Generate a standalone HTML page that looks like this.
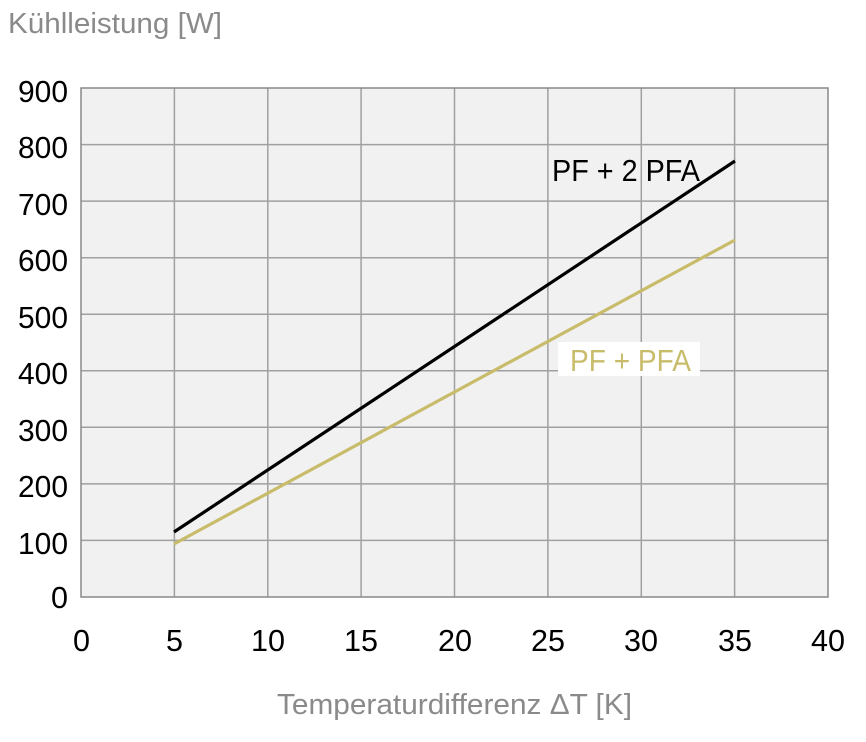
<!DOCTYPE html>
<html><head><meta charset="utf-8"><style>
body{margin:0;background:#fff;}
text{font-family:"Liberation Sans Narrow","Liberation Sans",sans-serif;}
</style></head><body>
<svg width="866" height="737" xmlns="http://www.w3.org/2000/svg">
<rect x="81" y="88" width="747" height="509" fill="#f1f1f1"/>
<g stroke="#a0a0a0" stroke-width="1.5">
<line x1="174.4" y1="88" x2="174.4" y2="597"/>
<line x1="267.8" y1="88" x2="267.8" y2="597"/>
<line x1="361.1" y1="88" x2="361.1" y2="597"/>
<line x1="454.5" y1="88" x2="454.5" y2="597"/>
<line x1="547.9" y1="88" x2="547.9" y2="597"/>
<line x1="641.3" y1="88" x2="641.3" y2="597"/>
<line x1="734.6" y1="88" x2="734.6" y2="597"/>
<line x1="81" y1="144.6" x2="828" y2="144.6"/>
<line x1="81" y1="201.1" x2="828" y2="201.1"/>
<line x1="81" y1="257.7" x2="828" y2="257.7"/>
<line x1="81" y1="314.2" x2="828" y2="314.2"/>
<line x1="81" y1="370.8" x2="828" y2="370.8"/>
<line x1="81" y1="427.3" x2="828" y2="427.3"/>
<line x1="81" y1="483.9" x2="828" y2="483.9"/>
<line x1="81" y1="540.4" x2="828" y2="540.4"/>
</g>
<rect x="81" y="88" width="747" height="509" fill="none" stroke="#888" stroke-width="1.5"/>
<line x1="174" y1="544" x2="735" y2="240" stroke="#c8bc6a" stroke-width="3.2"/>
<line x1="174" y1="532" x2="735" y2="161" stroke="#000" stroke-width="3.2"/>
<text x="552" y="181" font-size="31" textLength="148" lengthAdjust="spacingAndGlyphs" fill="#000">PF + 2 PFA</text>
<rect x="558" y="342" width="142" height="34" fill="#fff"/>
<text x="570" y="371" font-size="31" textLength="121" lengthAdjust="spacingAndGlyphs" fill="#c8bc6a">PF + PFA</text>
<g font-size="31" fill="#000">
<text x="18" y="102" textLength="50" lengthAdjust="spacingAndGlyphs">900</text>
<text x="18" y="158" textLength="50" lengthAdjust="spacingAndGlyphs">800</text>
<text x="18" y="215" textLength="50" lengthAdjust="spacingAndGlyphs">700</text>
<text x="18" y="271" textLength="50" lengthAdjust="spacingAndGlyphs">600</text>
<text x="18" y="328" textLength="50" lengthAdjust="spacingAndGlyphs">500</text>
<text x="18" y="384" textLength="50" lengthAdjust="spacingAndGlyphs">400</text>
<text x="18" y="441" textLength="50" lengthAdjust="spacingAndGlyphs">300</text>
<text x="18" y="497" textLength="50" lengthAdjust="spacingAndGlyphs">200</text>
<text x="18" y="554" textLength="50" lengthAdjust="spacingAndGlyphs">100</text>
<text x="51" y="608" textLength="17" lengthAdjust="spacingAndGlyphs">0</text>
</g>
<g font-size="31" fill="#000">
<text x="73" y="651" textLength="17" lengthAdjust="spacingAndGlyphs">0</text>
<text x="166" y="651" textLength="17" lengthAdjust="spacingAndGlyphs">5</text>
<text x="251" y="651" textLength="34" lengthAdjust="spacingAndGlyphs">10</text>
<text x="344" y="651" textLength="34" lengthAdjust="spacingAndGlyphs">15</text>
<text x="438" y="651" textLength="34" lengthAdjust="spacingAndGlyphs">20</text>
<text x="531" y="651" textLength="34" lengthAdjust="spacingAndGlyphs">25</text>
<text x="624" y="651" textLength="34" lengthAdjust="spacingAndGlyphs">30</text>
<text x="718" y="651" textLength="34" lengthAdjust="spacingAndGlyphs">35</text>
<text x="811" y="651" textLength="34" lengthAdjust="spacingAndGlyphs">40</text>
</g>
<text x="8" y="33" font-size="29" textLength="214" lengthAdjust="spacingAndGlyphs" fill="#8a8a8a">Kühlleistung [W]</text>
<text x="277" y="714" font-size="29" textLength="355" lengthAdjust="spacingAndGlyphs" fill="#8a8a8a">Temperaturdifferenz ΔT [K]</text>
</svg>
</body></html>
